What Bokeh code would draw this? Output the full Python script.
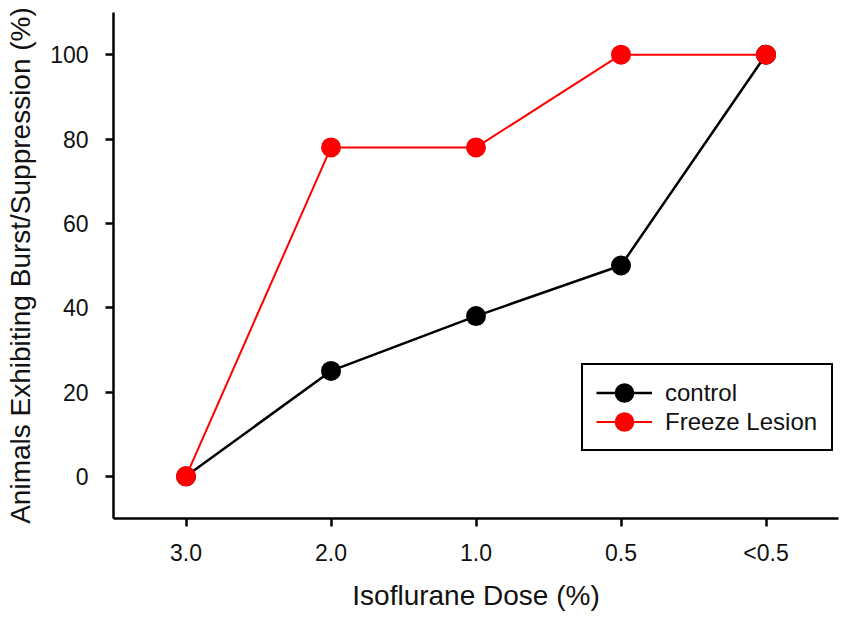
from bokeh.plotting import figure
from bokeh.models import FactorRange, Range1d, FixedTicker, Legend, LegendItem
from bokeh.embed import file_html
from bokeh.resources import INLINE

doses = ["3.0", "2.0", "1.0", "0.5", "<0.5"]
control = [0, 25, 38, 50, 100]
freeze_lesion = [0, 78, 78, 100, 100]
y_ticks = [0, 20, 40, 60, 80, 100]

FONT = "Liberation Sans"

p = figure(width=848, height=621, output_backend="svg", toolbar_location=None,
           x_range=FactorRange(*doses), y_range=Range1d(-10, 110),
           min_border_left=113, min_border_right=10, min_border_top=12, min_border_bottom=103)
p.x_range.range_padding = 0
p.outline_line_color = None
p.grid.visible = False
p.background_fill_color = "white"

for ax in (p.xaxis[0], p.yaxis[0]):
    ax.axis_line_width = 2.5
    ax.axis_line_color = "black"
    ax.major_tick_line_width = 2.5
    ax.major_tick_line_color = "black"
    ax.major_tick_out = 8
    ax.major_tick_in = 0
    ax.minor_tick_line_color = None
    ax.major_label_text_font = FONT
    ax.major_label_text_font_size = "23px"
    ax.major_label_text_color = "#111111"
    ax.axis_label_text_font = FONT
    ax.axis_label_text_font_size = "28px"
    ax.axis_label_text_font_style = "normal"
    ax.axis_label_text_color = "#111111"

p.yaxis.ticker = FixedTicker(ticks=y_ticks)
p.xaxis.axis_label = "Isoflurane Dose (%)"
p.yaxis.axis_label = "Animals Exhibiting Burst/Suppression (%)"
p.xaxis.major_label_standoff = 13
p.xaxis.axis_label_standoff = 11
p.yaxis.major_label_standoff = 17
p.yaxis.axis_label_standoff = 11

l1 = p.line(doses, control, line_color="black", line_width=2.5)
s1 = p.scatter(doses, control, size=12, line_width=8, fill_color="black", line_color="black")
l2 = p.line(doses, freeze_lesion, line_color="#ff0000", line_width=2)
s2 = p.scatter(doses, freeze_lesion, size=12, line_width=8, fill_color="#ff0000", line_color="#ff0000")

legend = Legend(items=[LegendItem(label="control", renderers=[l1, s1]),
                       LegendItem(label="Freeze Lesion", renderers=[l2, s2])],
                location=(468, 67), orientation="vertical",
                padding=13, spacing=0, glyph_width=56, glyph_height=29,
                label_height=29, label_width=153, label_standoff=13,
                label_text_font=FONT, label_text_font_size="24px",
                label_text_color="#111111",
                border_line_color="black", border_line_width=2.5, border_line_alpha=1,
                background_fill_alpha=1, margin=0)
p.add_layout(legend, "center")

open("out.html", "w").write(file_html(p, INLINE))
